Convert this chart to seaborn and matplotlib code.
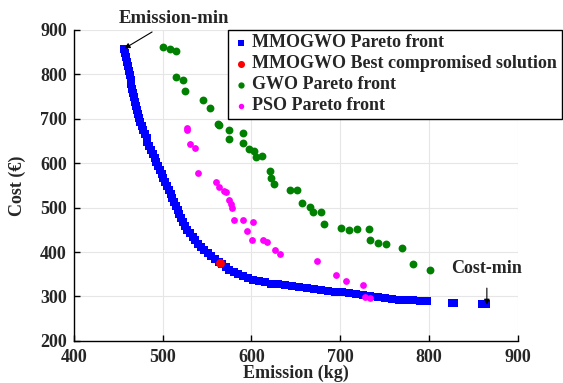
import numpy as np
import pandas as pd
import matplotlib
matplotlib.use("Agg")
import matplotlib.pyplot as plt
import seaborn as sns

# Data
mmogwo_emission = [457, 458, 459, 460, 461, 462, 463, 464, 465, 466, 467, 468, 469, 470,
                   471, 472, 474, 475, 477, 478, 480, 482, 483, 485, 487, 489, 491, 493,
                   495, 497, 499, 501, 503, 505, 507, 509, 511, 513, 515, 517, 519, 521,
                   523, 525, 528, 531, 534, 537, 540, 543, 547, 551, 555, 559, 563, 567,
                   571, 575, 580, 585, 590, 596, 602, 608, 615, 622, 630, 638, 646, 654,
                   662, 670, 678, 686, 694, 702, 710, 718, 726, 734, 742, 750, 758, 766,
                   774, 782, 790, 798, 826, 828, 860, 864]
mmogwo_cost = [858, 848, 838, 828, 818, 808, 798, 788, 778, 768, 758, 748, 738, 728,
               719, 710, 701, 692, 683, 674, 665, 656, 647, 638, 629, 620, 611, 602,
               593, 584, 575, 566, 557, 548, 539, 530, 521, 512, 503, 494, 485, 476,
               467, 458, 450, 442, 434, 426, 418, 411, 404, 397, 390, 384, 378, 372,
               366, 360, 355, 350, 346, 342, 338, 335, 332, 329, 327, 325, 323, 321,
               319, 317, 315, 313, 311, 309, 307, 305, 303, 301, 299, 297, 295, 293,
               292, 291, 290, 289, 285, 285, 283, 283]

best_emission = [565]
best_cost = [375]

gwo_emission = [500, 508, 515, 515, 523, 525, 545, 553, 562, 563, 575, 575, 591, 591,
                597, 603, 605, 612, 621, 622, 625, 643, 651, 657, 666, 669, 678, 682,
                701, 710, 719, 732, 733, 742, 752, 770, 782, 801]
gwo_cost = [862, 857, 853, 795, 788, 762, 743, 725, 689, 685, 675, 655, 668, 646,
            632, 628, 614, 617, 583, 567, 553, 540, 540, 511, 502, 490, 490, 463,
            455, 450, 452, 452, 427, 421, 419, 410, 373, 360]

pso_emission = [527, 528, 531, 536, 540, 560, 564, 569, 571, 575, 577, 578, 580, 591,
                602, 595, 601, 613, 617, 627, 632, 674, 695, 706, 726, 728, 734]
pso_cost = [680, 675, 643, 635, 578, 558, 547, 538, 535, 518, 509, 500, 473, 473,
            468, 448, 426, 426, 422, 405, 396, 380, 349, 335, 326, 299, 297]

x_ticks = [400, 500, 600, 700, 800, 900]
y_ticks = [200, 300, 400, 500, 600, 700, 800, 900]

sns.set_style("whitegrid", {"grid.color": "#e6e6e6", "axes.edgecolor": "black",
                            "xtick.direction": "in", "ytick.direction": "in"})
plt.rcParams['font.family'] = ['Liberation Serif', 'DejaVu Serif']
plt.rcParams['font.weight'] = 'bold'

fig = plt.figure(figsize=(5.63, 3.83), dpi=100)
ax = fig.add_axes([0.131, 0.110, 0.789, 0.812])

sns.scatterplot(x=mmogwo_emission, y=mmogwo_cost, ax=ax, color='#0000ff', marker='s',
                s=30, linewidth=0, label='MMOGWO Pareto front', zorder=3)
sns.scatterplot(x=best_emission, y=best_cost, ax=ax, color='#ff0000', marker='o',
                s=40, linewidth=0, label='MMOGWO Best compromised solution', zorder=4)
sns.scatterplot(x=gwo_emission, y=gwo_cost, ax=ax, color='#008000', marker='o',
                s=32, linewidth=0, label='GWO Pareto front', zorder=3)
sns.scatterplot(x=pso_emission, y=pso_cost, ax=ax, color='#ff00ff', marker='o',
                s=24, linewidth=0, label='PSO Pareto front', zorder=3)

ax.set_xlim(400, 900)
ax.set_ylim(200, 900)
ax.set_xticks(x_ticks)
ax.set_yticks(y_ticks)
ax.tick_params(axis='both', labelsize=13, length=4, width=1, color='black',
               left=True, bottom=True)
ax.tick_params(axis='x', pad=6)
ax.tick_params(axis='y', pad=5)
for lbl in ax.get_xticklabels() + ax.get_yticklabels():
    lbl.set_fontweight('bold')

ax.set_xlabel('Emission (kg)', fontsize=13, fontweight='bold', labelpad=-1)
ax.set_ylabel('Cost (€)', fontsize=13, fontweight='bold', labelpad=10)

for side in ['top', 'right']:
    ax.spines[side].set_visible(False)
for side in ['left', 'bottom']:
    ax.spines[side].set_color('black')
    ax.spines[side].set_linewidth(1)

ax.annotate('Emission-min', xy=(457, 858), xytext=(513, 925),
            ha='center', va='center', fontsize=13.5, fontweight='bold',
            annotation_clip=False,
            arrowprops=dict(arrowstyle='-|>', color='black', lw=0.8,
                            mutation_scale=8, shrinkA=2, shrinkB=0))
ax.annotate('Cost-min', xy=(865, 281), xytext=(865, 364),
            ha='center', va='center', fontsize=13, fontweight='bold',
            annotation_clip=False,
            arrowprops=dict(arrowstyle='-|>', color='black', lw=0.8,
                            mutation_scale=8, shrinkA=6, shrinkB=0))

leg = ax.legend(loc='upper left', bbox_to_anchor=(0.347, 1.0), fontsize=13,
                frameon=True, fancybox=False, edgecolor='black', framealpha=1,
                handletextpad=0.1, borderpad=0.25, labelspacing=0.22,
                handlelength=1.0, borderaxespad=0, markerscale=0.8)
leg.get_frame().set_linewidth(1)
for t in leg.get_texts():
    t.set_fontweight('bold')

fig.savefig('out.png', dpi=100)
